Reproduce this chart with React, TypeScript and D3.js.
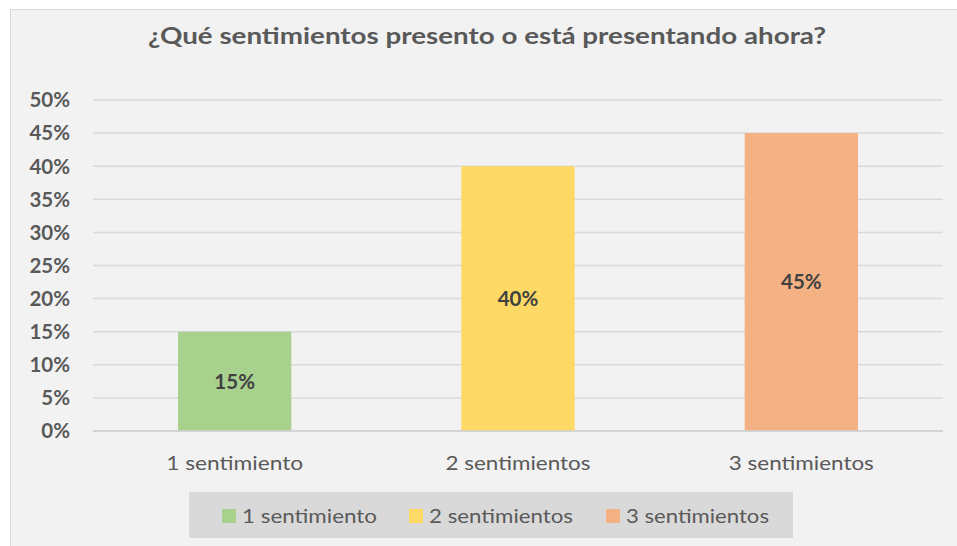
import React from "react";
import * as d3 from "d3";

const categories = ["1 sentimiento", "2 sentimientos", "3 sentimientos"];
const values = [0.15, 0.4, 0.45];
const colors = ["#a9d18e", "#ffd966", "#f4b183"];
const yTicks = [0, 0.05, 0.1, 0.15, 0.2, 0.25, 0.3, 0.35, 0.4, 0.45, 0.5];
const title = "¿Qué sentimientos presento o está presentando ahora?";

const W = 957;
const H = 546;
const plot = { left: 93, right: 943, top: 100, bottom: 431 };
const FONT = "Lato, 'Open Sans', 'Noto Sans', sans-serif";
const TXT = "#595959";

export default function App() {
  const x = d3
    .scaleBand<string>()
    .domain(categories)
    .range([plot.left, plot.right])
    .paddingInner(0.6)
    .paddingOuter(0.3);
  const y = d3.scaleLinear().domain([0, 0.5]).range([plot.bottom, plot.top]);
  const fmt = d3.format(".0%");

  const legendX = [222, 409, 606];
  const legendW = [135, 144, 143];

  return (
    <svg
      width={W}
      height={H}
      style={{ position: "absolute", left: 0, top: 0, background: "#fff" }}
      fontFamily={FONT}
    >
      <rect x={10.5} y={9.5} width={955} height={545} fill="#f2f2f2" stroke="#d9d9d9" strokeWidth={1} />
      <text
        x={487}
        y={44}
        textAnchor="middle"
        fontSize={22}
        fontWeight="bold"
        fill={TXT}
        textLength={678}
        lengthAdjust="spacingAndGlyphs"
      >
        {title}
      </text>
      {yTicks.map((t) => (
        <g key={t}>
          <line
            x1={plot.left}
            x2={plot.right}
            y1={y(t)}
            y2={y(t)}
            stroke="#d9d9d9"
            strokeWidth={1.5}
          />
          <text
            x={70}
            y={y(t)}
            dy="0.36em"
            textAnchor="end"
            fontSize={20.5}
            fontWeight="bold"
            fill={TXT}
          >
            {fmt(t)}
          </text>
        </g>
      ))}
      {categories.map((c, i) => (
        <g key={c}>
          <rect
            x={x(c)}
            y={y(values[i])}
            width={x.bandwidth()}
            height={y(0) - y(values[i])}
            fill={colors[i]}
          />
          <text
            x={(x(c) as number) + x.bandwidth() / 2}
            y={(y(0) + y(values[i])) / 2}
            dy="0.36em"
            textAnchor="middle"
            fontSize={20.5}
            fontWeight="bold"
            fill="#404040"
          >
            {fmt(values[i])}
          </text>
          <text
            x={(x(c) as number) + x.bandwidth() / 2}
            y={463}
            dy="0.36em"
            textAnchor="middle"
            fontSize={19.5}
            fill={TXT}
            textLength={i === 0 ? 137 : 145}
            lengthAdjust="spacingAndGlyphs"
          >
            {c}
          </text>
        </g>
      ))}
      <line x1={plot.left} x2={plot.right} y1={y(0)} y2={y(0)} stroke="#d0d0d0" strokeWidth={1.5} />
      <rect x={189} y={492} width={604} height={46} fill="#d9d9d9" />
      {categories.map((c, i) => (
        <g key={"lg" + c}>
          <rect x={legendX[i]} y={509} width={14} height={14} fill={colors[i]} />
          <text
            x={legendX[i] + 20}
            y={516}
            dy="0.36em"
            fontSize={19.5}
            fill={TXT}
            textLength={legendW[i]}
            lengthAdjust="spacingAndGlyphs"
          >
            {c}
          </text>
        </g>
      ))}
    </svg>
  );
}
